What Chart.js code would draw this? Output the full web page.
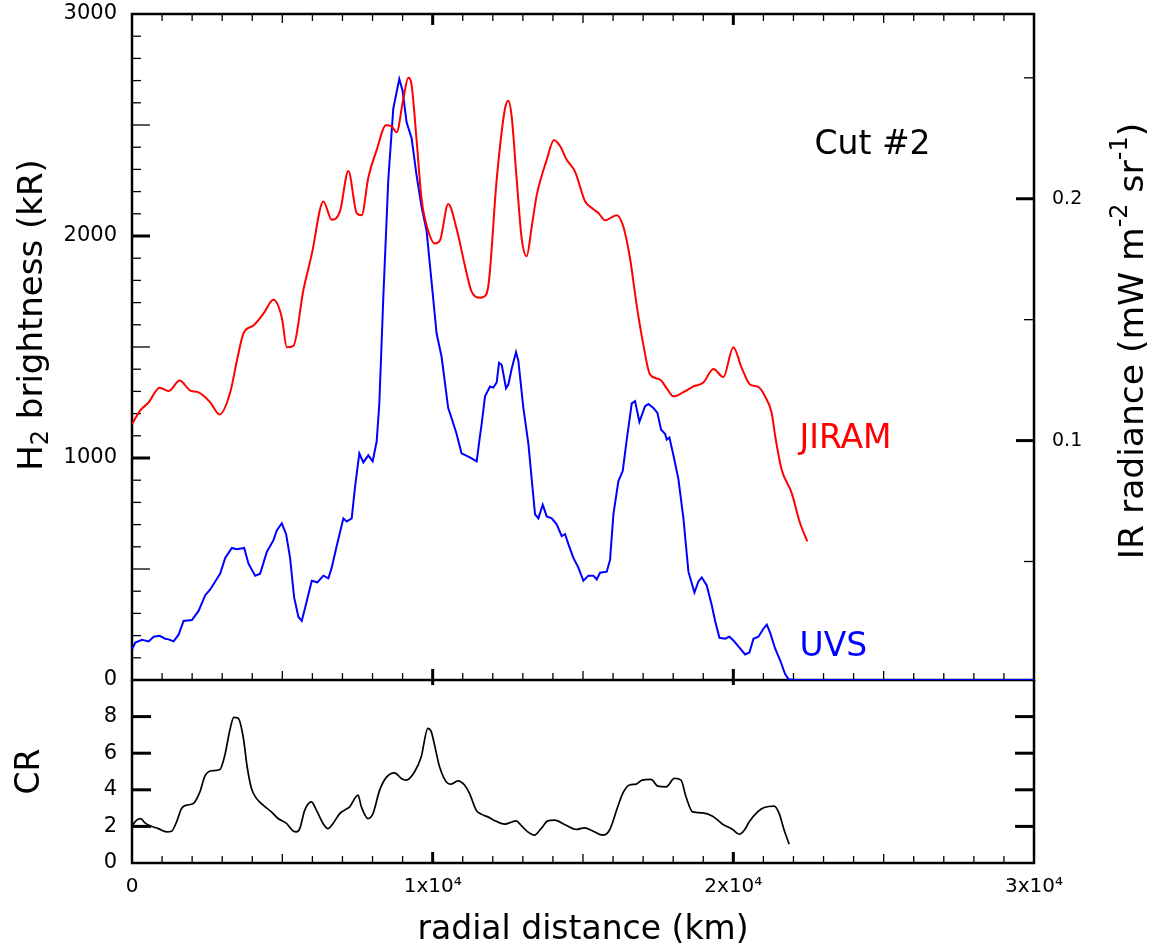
<!DOCTYPE html>
<html>
<head>
<meta charset="utf-8">
<script src="https://cdn.jsdelivr.net/npm/chart.js@4.4.1/dist/chart.umd.min.js"></script>
<style>
	body { margin: 0; background: #fff; }
	#wrap { position: relative; width: 1156px; height: 950px; }
	canvas { position: absolute; left: 0; top: 0; }
</style>
</head>
<body>
<div id="wrap">
	<canvas id="upper" width="1156" height="950"></canvas>
	<canvas id="lower" width="1156" height="950"></canvas>
</div>
<script>
const jiramKm = [0, 277, 554, 919, 1218, 1583, 1937, 2214, 2602, 2912, 3266, 3487, 3709, 4041, 4373, 4705, 4982, 5148, 5369, 5701, 5978, 6366, 6642, 6919, 7196, 7473, 7639, 7860, 8137, 8447, 8635, 8801, 9023, 9189, 9300, 9466, 9632, 9853, 10075, 10241, 10517, 10798, 11076, 11298, 11575, 11686, 11852, 12129, 12406, 12517, 12628, 12795, 12961, 13127, 13294, 13460, 13793, 14037, 14236, 14458, 14735, 15068, 15345, 15512, 15734, 16122, 16343, 16565, 16787, 17009, 17231, 17564, 17785, 18007, 18340, 18673, 19005, 19335, 19667, 20000, 20277, 20555, 20832, 21054, 21276, 21389, 21608, 21941, 22218, 22462];
const jiramRad = [0.1068, 0.1125, 0.1158, 0.1219, 0.1205, 0.1248, 0.1207, 0.1199, 0.1158, 0.1108, 0.1199, 0.1329, 0.1444, 0.1476, 0.1525, 0.1582, 0.1509, 0.1386, 0.1392, 0.1623, 0.1770, 0.1989, 0.1913, 0.1949, 0.2115, 0.1941, 0.1932, 0.2088, 0.2201, 0.2304, 0.2299, 0.2275, 0.2413, 0.2500, 0.2470, 0.2242, 0.1998, 0.1867, 0.1815, 0.1827, 0.1978, 0.1875, 0.1721, 0.1615, 0.1591, 0.1594, 0.1640, 0.2079, 0.2373, 0.2405, 0.2340, 0.2079, 0.1835, 0.1762, 0.1884, 0.2014, 0.2161, 0.2243, 0.2218, 0.2161, 0.2112, 0.1990, 0.1957, 0.1941, 0.1911, 0.1932, 0.1884, 0.1753, 0.1558, 0.1395, 0.1273, 0.1252, 0.1216, 0.1183, 0.1200, 0.1224, 0.1240, 0.1296, 0.1263, 0.1386, 0.1301, 0.1232, 0.1222, 0.1183, 0.1114, 0.1021, 0.0879, 0.0783, 0.0659, 0.0583];

const uvsKm = [0, 111, 332, 554, 720, 919, 1107, 1218, 1384, 1550, 1716, 1993, 2214, 2436, 2602, 2768, 2934, 3100, 3321, 3487, 3731, 3875, 4096, 4262, 4484, 4705, 4816, 4982, 5126, 5258, 5391, 5535, 5646, 5812, 5978, 6166, 6366, 6532, 6642, 6808, 7030, 7140, 7307, 7418, 7561, 7694, 7860, 8004, 8137, 8225, 8358, 8524, 8690, 8889, 9000, 9133, 9300, 9466, 9632, 9798, 9964, 10130, 10296, 10517, 10628, 10794, 10960, 11237, 11464, 11575, 11630, 11741, 11908, 12018, 12129, 12207, 12296, 12440, 12517, 12628, 12772, 12850, 13017, 13183, 13294, 13405, 13516, 13660, 13793, 13960, 14126, 14292, 14403, 14514, 14680, 14846, 15013, 15179, 15345, 15456, 15567, 15789, 15900, 16011, 16177, 16321, 16455, 16621, 16732, 16876, 17064, 17175, 17342, 17475, 17597, 17730, 17785, 17874, 18007, 18173, 18340, 18506, 18706, 18839, 18950, 19116, 19283, 19394, 19538, 19727, 19870, 20003, 20169, 20391, 20535, 20669, 20835, 21001, 21112, 21223, 21389, 21556, 21722, 21833, 22000, 30000];
const uvsKR = [138, 169, 181, 174, 195, 199, 186, 183, 174, 204, 266, 270, 311, 382, 408, 444, 479, 550, 595, 589, 595, 524, 470, 479, 577, 630, 674, 706, 657, 550, 373, 284, 266, 355, 447, 440, 470, 458, 506, 604, 728, 714, 728, 870, 1021, 980, 1012, 985, 1074, 1243, 1722, 2254, 2574, 2707, 2654, 2512, 2441, 2272, 2130, 2023, 1793, 1562, 1456, 1225, 1180, 1109, 1021, 1003, 985, 1101, 1154, 1278, 1322, 1317, 1340, 1429, 1420, 1314, 1331, 1402, 1477, 1438, 1225, 1065, 905, 746, 728, 790, 737, 728, 701, 648, 657, 612, 550, 506, 447, 470, 470, 453, 483, 488, 541, 746, 896, 941, 1083, 1246, 1256, 1163, 1234, 1243, 1225, 1203, 1127, 1109, 1083, 1092, 1012, 905, 728, 488, 394, 444, 462, 426, 337, 266, 190, 186, 195, 178, 151, 115, 124, 186, 195, 231, 249, 213, 142, 89, 27, 4, 0, 0];

const crKm = [0, 155, 288, 432, 598, 875, 1151, 1317, 1483, 1649, 1815, 2037, 2258, 2424, 2646, 2922, 3089, 3255, 3387, 3531, 3697, 3830, 3974, 4140, 4362, 4638, 4860, 5137, 5358, 5469, 5580, 5746, 5967, 6133, 6354, 6520, 6686, 6908, 7074, 7240, 7517, 7628, 7849, 8015, 8236, 8458, 8734, 8956, 9122, 9399, 9620, 9841, 9952, 10063, 10229, 10506, 10617, 10838, 11059, 11225, 11447, 11613, 11834, 12111, 12388, 12554, 12775, 12941, 13163, 13384, 13606, 13827, 14048, 14440, 14772, 15049, 15326, 15658, 15879, 16156, 16322, 16544, 16765, 16964, 17263, 17485, 17762, 18039, 18260, 18426, 18648, 18980, 19312, 19644, 19976, 20198, 20364, 20530, 20807, 21028, 21360, 21526, 21692, 21858];
const crValues = [2.01, 2.34, 2.43, 2.19, 2.03, 1.88, 1.70, 1.74, 2.25, 2.98, 3.16, 3.25, 3.89, 4.75, 5.04, 5.11, 5.90, 7.27, 7.96, 7.91, 6.90, 5.26, 4.07, 3.53, 3.16, 2.79, 2.43, 2.16, 1.75, 1.70, 1.88, 2.89, 3.34, 2.89, 2.16, 1.88, 2.16, 2.70, 2.89, 3.07, 3.71, 3.07, 2.43, 2.70, 3.98, 4.68, 4.93, 4.62, 4.53, 4.99, 5.81, 7.36, 7.18, 6.45, 5.26, 4.35, 4.31, 4.49, 4.26, 3.80, 2.89, 2.67, 2.52, 2.28, 2.12, 2.19, 2.30, 2.06, 1.70, 1.52, 1.88, 2.30, 2.34, 2.06, 1.83, 1.92, 1.75, 1.52, 1.79, 3.07, 3.80, 4.26, 4.31, 4.53, 4.57, 4.20, 4.16, 4.62, 4.53, 3.62, 2.79, 2.74, 2.56, 2.12, 1.83, 1.57, 1.79, 2.25, 2.79, 3.03, 3.11, 2.70, 1.79, 1.02];

const xTicks = [0, 10000, 20000, 30000];
const xTickLabels = ["0", "1x10\u2074", "2x10\u2074", "3x10\u2074"];
const brightTicks = [0, 1000, 2000, 3000];
const radTicks = [0.1, 0.2];
const crTicks = [0, 2, 4, 6, 8];

const FONT = "DejaVu Sans";
Chart.defaults.font.family = FONT;
Chart.defaults.color = "#000";

const points = (xs, ys) => xs.map((x, i) => ({ x, y: ys[i] }));
const fixTicks = (values) => (scale) => {
	scale.ticks = values.map((value) => ({ value }));
};
const fitWidth = (w) => (s) => {
	s.width = w;
	s.paddingTop = 0;
	s.paddingBottom = 0;
};

const line = (ctx, x1, y1, x2, y2, w) => {
	ctx.lineWidth = w;
	ctx.beginPath();
	ctx.moveTo(x1, y1);
	ctx.lineTo(x2, y2);
	ctx.stroke();
};

// text with sub / superscript parts, centred on (x, y), baseline at y
const richText = (ctx, parts, x, y, size, rot, color) => {
	ctx.save();
	ctx.translate(x, y);
	ctx.rotate(rot);
	ctx.fillStyle = color || "#000";
	ctx.textBaseline = "alphabetic";
	ctx.textAlign = "left";
	const fonts = parts.map((p) => (p.s ? Math.round(size * 0.7) : size) + "px '" + FONT + "'");
	let w = 0;
	parts.forEach((p, i) => {
		ctx.font = fonts[i];
		w += ctx.measureText(p.t).width;
	});
	let cx = -w / 2;
	parts.forEach((p, i) => {
		ctx.font = fonts[i];
		const dy = p.s === "sup" ? -0.45 * size : p.s === "sub" ? 0.18 * size : 0;
		ctx.fillText(p.t, cx, dy);
		cx += ctx.measureText(p.t).width;
	});
	ctx.restore();
};

const xTickMarks = (ctx, x, a, withTop) => {
	for (let v = 1000; v < 30000; v += 1000) {
		const p = x.getPixelForValue(v);
		const big = v % 10000 === 0;
		const len = big ? 11 : v % 5000 === 0 ? 9 : 7;
		const w = big ? 3 : 1.3;
		line(ctx, p, a.bottom, p, a.bottom - len, w);
		if (withTop) line(ctx, p, a.top, p, a.top + len, w);
		if (big && withTop) line(ctx, p, a.bottom, p, a.bottom + 5, w);
	}
};

const upperFrame = {
	id: "upperFrame",
	beforeDatasetsDraw(chart) {
		const { ctx, chartArea: a, scales } = chart;
		ctx.save();
		ctx.strokeStyle = "#000";
		for (let v = 100; v < 3000; v += 100) {
			const p = scales.y.getPixelForValue(v);
			line(ctx, a.left, p, a.left + (v % 500 === 0 ? 18 : 9), p, v % 1000 === 0 ? 3 : 1.3);
		}
		[0.05, 0.1, 0.15, 0.2, 0.25].forEach((v) => {
			const p = scales.y2.getPixelForValue(v);
			const major = radTicks.includes(v);
			line(ctx, a.right, p, a.right - (major ? 18 : 10), p, major ? 3 : 1.3);
		});
		xTickMarks(ctx, scales.x, a, true);
		ctx.lineWidth = 2.5;
		ctx.strokeRect(a.left, a.top, a.width, a.height);
		ctx.restore();
	},
	afterDraw(chart) {
		const { ctx, scales } = chart;
		const x = scales.x, y = scales.y;
		richText(ctx, [{ t: "H" }, { t: "2", s: "sub" }, { t: " brightness (kR)" }], 42, 315, 34, -Math.PI / 2);
		richText(ctx, [{ t: "IR radiance (mW m" }, { t: "-2", s: "sup" }, { t: " sr" }, { t: "-1", s: "sup" }, { t: ")" }], 1143, 341, 34.5, -Math.PI / 2);
		ctx.save();
		ctx.font = "33px '" + FONT + "'";
		ctx.textBaseline = "alphabetic";
		ctx.fillStyle = "#000";
		ctx.fillText("Cut #2", x.getPixelForValue(22700), y.getPixelForValue(2370));
		ctx.fillStyle = "#ff0000";
		ctx.fillText("JIRAM", x.getPixelForValue(22200), y.getPixelForValue(1045));
		ctx.fillStyle = "#0000ff";
		ctx.fillText("UVS", x.getPixelForValue(22200), y.getPixelForValue(106));
		ctx.restore();
	},
};

const lowerFrame = {
	id: "lowerFrame",
	beforeDatasetsDraw(chart) {
		const { ctx, chartArea: a, scales } = chart;
		ctx.save();
		ctx.strokeStyle = "#000";
		crTicks.slice(1).forEach((v) => {
			const p = scales.y.getPixelForValue(v);
			line(ctx, a.left, p, a.left + 19, p, 3);
			line(ctx, a.right, p, a.right - 19, p, 3);
		});
		xTickMarks(ctx, scales.x, a, false);
		ctx.lineWidth = 2.5;
		ctx.beginPath();
		ctx.moveTo(a.left, a.top);
		ctx.lineTo(a.left, a.bottom);
		ctx.lineTo(a.right, a.bottom);
		ctx.lineTo(a.right, a.top);
		ctx.stroke();
		ctx.restore();
	},
};

const noGrid = { display: false, drawTicks: false };

new Chart(document.getElementById("upper"), {
	type: "line",
	data: {
		datasets: [
			{
				label: "JIRAM",
				data: points(jiramKm, jiramRad),
				yAxisID: "y2",
				borderColor: "#ff0000",
				borderWidth: 2,
				pointRadius: 0,
				cubicInterpolationMode: "monotone",
			},
			{
				label: "UVS",
				data: points(uvsKm, uvsKR),
				yAxisID: "y",
				borderColor: "#0000ff",
				borderWidth: 2,
				pointRadius: 0,
				tension: 0,
			},
		],
	},
	options: {
		responsive: false,
		animation: false,
		devicePixelRatio: 1,
		layout: { padding: { top: 14, left: 0, right: 0, bottom: 0 } },
		plugins: { legend: { display: false }, tooltip: { enabled: false } },
		scales: {
			x: {
				type: "linear",
				min: 0,
				max: 30000,
				ticks: { display: false },
				grid: noGrid,
				border: { display: false },
				afterFit: (s) => { s.height = 270; s.paddingLeft = 0; s.paddingRight = 0; },
			},
			y: {
				position: "left",
				min: 0,
				max: 3000,
				afterBuildTicks: fixTicks(brightTicks),
				ticks: { font: { size: 21 }, padding: 15, color: "#000", callback: (v) => String(v) },
				grid: noGrid,
				border: { display: false },
				afterFit: fitWidth(132),
			},
			y2: {
				position: "right",
				min: 0.001,
				max: 0.2764,
				afterBuildTicks: fixTicks(radTicks),
				ticks: { font: { size: 19 }, padding: 18, color: "#000", callback: (v) => v.toFixed(1) },
				grid: noGrid,
				border: { display: false },
				afterFit: fitWidth(122),
			},
		},
	},
	plugins: [upperFrame],
});

new Chart(document.getElementById("lower"), {
	type: "line",
	data: {
		datasets: [
			{
				label: "CR",
				data: points(crKm, crValues),
				borderColor: "#000",
				borderWidth: 1.7,
				pointRadius: 0,
				cubicInterpolationMode: "monotone",
			},
		],
	},
	options: {
		responsive: false,
		animation: false,
		devicePixelRatio: 1,
		layout: { padding: { top: 680, left: 0, right: 122, bottom: 0 } },
		plugins: { legend: { display: false }, tooltip: { enabled: false } },
		scales: {
			x: {
				type: "linear",
				min: 0,
				max: 30000,
				afterBuildTicks: fixTicks(xTicks),
				ticks: {
					font: { size: 20 },
					padding: 12,
					color: "#000",
					maxRotation: 0,
					callback: (v) => xTickLabels[xTicks.indexOf(v)],
				},
				grid: noGrid,
				border: { display: false },
				title: { display: true, text: "radial distance (km)", font: { size: 33 }, color: "#000", padding: { top: 0, bottom: 0 } },
				afterFit: (s) => { s.height = 87; },
			},
			y: {
				position: "left",
				min: 0,
				max: 10,
				afterBuildTicks: fixTicks(crTicks),
				ticks: { font: { size: 21 }, padding: 15, color: "#000" },
				grid: noGrid,
				border: { display: false },
				title: { display: true, text: "CR", font: { size: 33 }, color: "#000", padding: { top: 11, bottom: 0 } },
				afterFit: fitWidth(132),
			},
		},
	},
	plugins: [lowerFrame],
});
</script>
</body>
</html>
